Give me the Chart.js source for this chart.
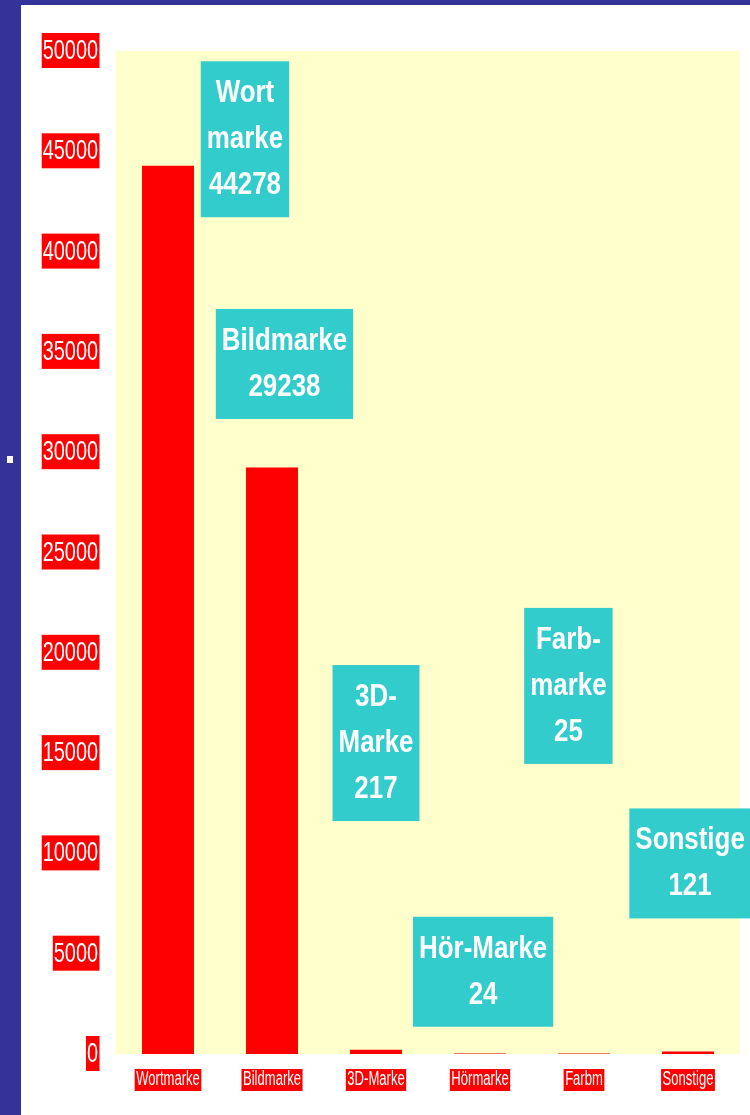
<!DOCTYPE html>
<html>
<head>
<meta charset="utf-8">
<script src="https://cdn.jsdelivr.net/npm/chart.js@4/dist/chart.umd.min.js"></script>
<style>
    html, body { margin: 0; padding: 0; }
    body { width: 750px; height: 1115px; background: #333399; position: relative; overflow: hidden; }
    #frame { position: absolute; left: 21px; top: 5px; width: 729px; height: 1110px; background: #ffffff; }
    #dot { position: absolute; left: 7px; top: 456px; width: 6px; height: 7px; background: #ffffff; }
</style>
</head>
<body>
<div id="dot"></div>
<div id="frame"><canvas id="markenChart"></canvas></div>
<script>
const categories = ['Wortmarke', 'Bildmarke', '3D-Marke', 'Hörmarke', 'Farbm', 'Sonstige'];
const amounts = [44278, 29238, 217, 24, 25, 121];
// text in the callout boxes, the value is added as last line
const calloutNames = [['Wort', 'marke'], ['Bildmarke'], ['3D-', 'Marke'], ['Hör-Marke'], ['Farb-', 'marke'], ['Sonstige']];
// callout centre, in category units and axis units
const calloutAt = [
    [0.74, 45600],
    [1.12, 34400],
    [2.0, 15500],
    [3.03, 4100],
    [3.85, 18350],
    [5.02, 9500],
];

const FONT = '"Liberation Sans", Arial, sans-serif';

// the original uses a squeezed Arial, so text is drawn with a horizontal scale
function squeezedText(ctx, text, x, y, font, sx) {
    ctx.save();
    ctx.font = font;
    ctx.translate(x, y);
    ctx.scale(sx, 1);
    ctx.fillText(text, 0, 0);
    ctx.restore();
}

function textWidth(ctx, text, font, sx) {
    ctx.save();
    ctx.font = font;
    const w = ctx.measureText(text).width * sx;
    ctx.restore();
    return w;
}

const plotBackground = {
    id: 'plotBackground',
    beforeDraw(chart) {
        const { ctx, chartArea } = chart;
        ctx.save();
        ctx.fillStyle = '#ffffcc';
        ctx.fillRect(chartArea.left, chartArea.top, chartArea.right - chartArea.left, chartArea.bottom - chartArea.top);
        ctx.restore();
    },
};

const boxedTicks = {
    id: 'boxedTicks',
    afterDraw(chart) {
        const { ctx, chartArea } = chart;
        const x = chart.scales.x;
        const y = chart.scales.y;

        ctx.save();
        ctx.textBaseline = 'alphabetic';

        // y axis labels
        const yFont = '28px ' + FONT;
        ctx.textAlign = 'right';
        y.ticks.forEach((t, i) => {
            const py = y.getPixelForTick(i);
            const right = chartArea.left - 18;
            const w = textWidth(ctx, t.label, yFont, 0.71);
            ctx.fillStyle = '#ff0000';
            ctx.fillRect(right - w - 1, py - 18, w + 2.5, 35);
            ctx.fillStyle = '#ffffff';
            squeezedText(ctx, t.label, right, py + 8, yFont, 0.71);
        });

        // x axis labels
        const xFont = '19.5px ' + FONT;
        ctx.textAlign = 'center';
        x.ticks.forEach((t, i) => {
            const px = x.getPixelForTick(i);
            const label = categories[t.value];
            const w = textWidth(ctx, label, xFont, 0.67);
            ctx.fillStyle = '#ff0000';
            ctx.fillRect(px - w / 2 - 1.5, chartArea.bottom + 15, w + 3, 22);
            ctx.fillStyle = '#ffffff';
            squeezedText(ctx, label, px, chartArea.bottom + 31, xFont, 0.67);
        });
        ctx.restore();
    },
};

const callouts = {
    id: 'callouts',
    afterDatasetsDraw(chart) {
        const { ctx } = chart;
        const x = chart.scales.x;
        const y = chart.scales.y;
        const font = 'bold 30.5px ' + FONT;
        const sx = 0.85;
        const lineHeight = 46;
        ctx.save();
        ctx.textAlign = 'center';
        ctx.textBaseline = 'alphabetic';
        calloutNames.forEach((names, i) => {
            const lines = names.concat(String(amounts[i]));
            const cx = x.getPixelForValue(calloutAt[i][0]);
            const cy = y.getPixelForValue(calloutAt[i][1]);
            const w = Math.max(...lines.map((l) => textWidth(ctx, l, font, sx))) + 12;
            const h = lines.length * lineHeight + 18;
            const top = cy - h / 2;
            ctx.fillStyle = '#33cccc';
            ctx.fillRect(cx - w / 2, top, w, h);
            ctx.fillStyle = '#ffffff';
            lines.forEach((l, j) => {
                squeezedText(ctx, l, cx, top + 41 + lineHeight * j, font, sx);
            });
        });
        ctx.restore();
    },
};

new Chart(document.querySelector('#markenChart'), {
    type: 'bar',
    data: {
        labels: categories,
        datasets: [
            {
                label: 'Marken',
                data: amounts,
                backgroundColor: '#ff0000',
                categoryPercentage: 1,
                barPercentage: 0.5,
            },
        ],
    },
    options: {
        responsive: true,
        maintainAspectRatio: false,
        animation: false,
        layout: {
            padding: { top: 46, right: 10, bottom: 0, left: 0 },
        },
        plugins: {
            legend: { display: false },
            tooltip: { enabled: false },
        },
        scales: {
            x: {
                grid: { display: false, drawTicks: false },
                border: { display: false },
                ticks: {
                    color: 'rgba(0,0,0,0)',
                    autoSkip: false,
                    maxRotation: 0,
                },
                afterFit(scale) {
                    scale.height = 61;
                },
            },
            y: {
                min: 0,
                max: 50000,
                grid: { display: false, drawTicks: false },
                border: { display: false },
                ticks: {
                    stepSize: 5000,
                    color: 'rgba(0,0,0,0)',
                    callback: (value) => String(value),
                },
                afterFit(scale) {
                    scale.width = 95;
                },
            },
        },
    },
    plugins: [plotBackground, callouts, boxedTicks],
});
</script>
</body>
</html>
